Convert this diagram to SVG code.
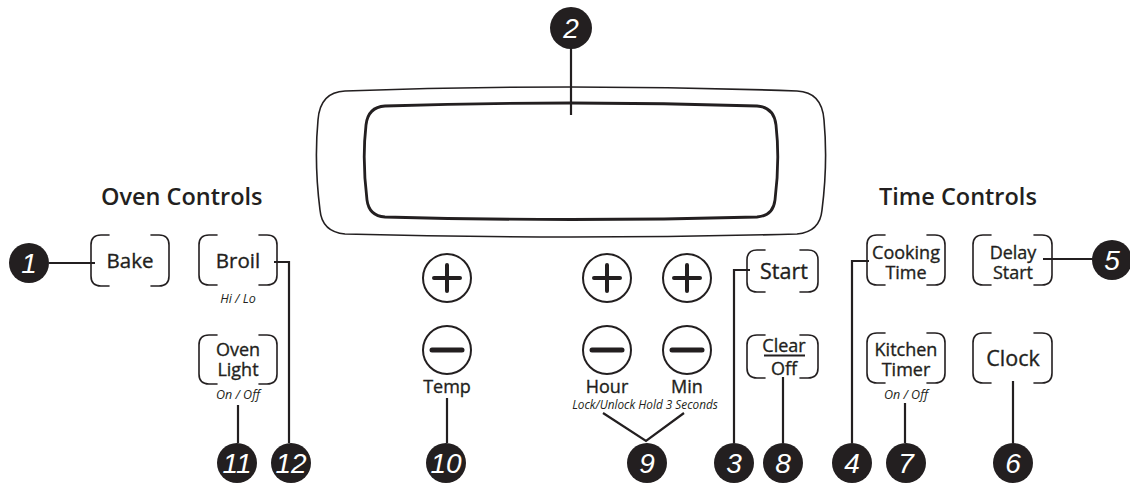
<svg xmlns="http://www.w3.org/2000/svg" width="1130" height="487" viewBox="0 0 1130 487">
<style>
.bg{fill:#fff}
.btn{fill:none;stroke:#231f20;stroke-width:1.6;stroke-linecap:round}
.lbl{font-family:"Open Sans","Noto Sans",sans-serif;font-size:18px;fill:#231f20;stroke:#231f20;stroke-width:0.35;text-anchor:middle}
.big{font-size:20.5px}
.ttl{font-family:"Open Sans","Noto Sans",sans-serif;font-size:23.5px;fill:#231f20;font-weight:600}
.sub{font-family:"Open Sans","Noto Sans",sans-serif;font-size:12.5px;font-style:italic;fill:#231f20;text-anchor:middle}
.lock{font-size:11.8px}
.num{fill:#231f20}
.numt{font-family:"Liberation Sans","DejaVu Sans",sans-serif;font-size:28px;font-style:italic;fill:#fff;text-anchor:middle}
.con{fill:none;stroke:#231f20;stroke-width:2.2}
.key{fill:#fff;stroke:#231f20;stroke-width:2}
.sign{stroke:#231f20;stroke-width:4;stroke-linecap:round}
.disp-o{fill:none;stroke:#231f20;stroke-width:1.6}
.disp-i{fill:none;stroke:#231f20;stroke-width:2.8}
</style>
<rect class="bg" width="1130" height="487"/>

<g id="connectors">
  <path class="con" d="M49 263 H95"/>
  <path class="con" d="M571 48 V115"/>
  <path class="con" d="M274 262 H289 V443"/>
  <path class="con" d="M238 405 V443"/>
  <path class="con" d="M447 398 V443"/>
  <path class="con" d="M603 413 L646 441 L684 413"/>
  <path class="con" d="M750 270 H734 V443"/>
  <path class="con" d="M783 377 V443"/>
  <path class="con" d="M869 261 H852 V443"/>
  <path class="con" d="M905 403 V443"/>
  <path class="con" d="M1013 381 V443"/>
  <path class="con" d="M1043 259 H1095"/>
</g>

<g id="display">
  <path class="disp-o" d="M345 91 Q571 83 797 91 Q822 92 824 120 Q828 163 822 210 Q820 232 797 234 Q571 240 345 234 Q322 232 320 210 Q314 163 318 120 Q320 92 345 91 Z"/>
  <path class="disp-i" d="M385 106 Q571 100 757 106 Q774 107 776 125 Q780 160 775 200 Q773 216 757 217 Q571 222 385 217 Q369 216 367 200 Q362 160 366 125 Q368 107 385 106 Z"/>
</g>

<text class="ttl" x="101" y="205">Oven Controls</text>
<text class="ttl" x="879" y="205">Time Controls</text>

<g id="bake">
  <path class="btn" d="M109 235 H101 Q91 235 91 245 V276 Q91 286 101 286 H109 M151 235 H159 Q169 235 169 245 V276 Q169 286 159 286 H151"/>
  <text class="lbl big" x="130" y="268">Bake</text>
</g>
<g id="broil">
  <path class="btn" d="M217 235 H209 Q199 235 199 245 V275 Q199 285 209 285 H217 M259 235 H267 Q277 235 277 245 V275 Q277 285 267 285 H259"/>
  <text class="lbl big" x="238" y="268">Broil</text>
  <text class="sub" x="238" y="303">Hi / Lo</text>
</g>
<g id="oven-light">
  <path class="btn" d="M217 335 H209 Q199 335 199 345 V374 Q199 384 209 384 H217 M259 335 H267 Q277 335 277 345 V374 Q277 384 267 384 H259"/>
  <text class="lbl" x="238" y="356">Oven</text>
  <text class="lbl" x="238" y="376">Light</text>
  <text class="sub" x="238" y="399">On / Off</text>
</g>

<g id="temp">
  <circle class="key" cx="447" cy="278" r="24"/>
  <path class="sign" d="M434 278 H460 M447 265 V291"/>
  <circle class="key" cx="447" cy="350" r="24"/>
  <path class="sign" d="M432 350 H462" style="stroke-width:5"/>
  <text class="lbl" x="447" y="393">Temp</text>
</g>
<g id="hour">
  <circle class="key" cx="607" cy="278" r="24"/>
  <path class="sign" d="M594 278 H620 M607 265 V291"/>
  <circle class="key" cx="607" cy="350" r="24"/>
  <path class="sign" d="M592 350 H622" style="stroke-width:5"/>
  <text class="lbl" x="607" y="393">Hour</text>
</g>
<g id="min">
  <circle class="key" cx="687" cy="278" r="24"/>
  <path class="sign" d="M674 278 H700 M687 265 V291"/>
  <circle class="key" cx="687" cy="350" r="24"/>
  <path class="sign" d="M672 350 H702" style="stroke-width:5"/>
  <text class="lbl" x="687" y="393">Min</text>
</g>
<text class="sub lock" x="645" y="409">Lock/Unlock Hold 3 Seconds</text>

<g id="start">
  <path class="btn" d="M765 250 H757 Q747 250 747 260 V282 Q747 292 757 292 H765 M800 250 H808 Q818 250 818 260 V282 Q818 292 808 292 H800"/>
  <text class="lbl" x="784" y="279" style="font-size:21.5px">Start</text>
</g>
<g id="clear-off">
  <path class="btn" d="M765 335 H757 Q747 335 747 345 V368 Q747 378 757 378 H765 M800 335 H808 Q818 335 818 345 V368 Q818 378 808 378 H800"/>
  <text class="lbl" x="784" y="352">Clear</text>
  <path d="M764 355.5 H805" stroke="#231f20" stroke-width="1.8"/>
  <text class="lbl" x="784" y="375">Off</text>
</g>
<g id="cooking-time">
  <path class="btn" d="M885 235 H877 Q867 235 867 245 V275 Q867 285 877 285 H885 M927 235 H935 Q945 235 945 245 V275 Q945 285 935 285 H927"/>
  <text class="lbl" x="906" y="259">Cooking</text>
  <text class="lbl" x="906" y="279">Time</text>
</g>
<g id="delay-start">
  <path class="btn" d="M991 235 H983 Q973 235 973 245 V275 Q973 285 983 285 H991 M1034 235 H1042 Q1052 235 1052 245 V275 Q1052 285 1042 285 H1034"/>
  <text class="lbl" x="1013" y="259">Delay</text>
  <text class="lbl" x="1013" y="279">Start</text>
</g>
<g id="kitchen-timer">
  <path class="btn" d="M885 333 H877 Q867 333 867 343 V373 Q867 383 877 383 H885 M927 333 H935 Q945 333 945 343 V373 Q945 383 935 383 H927"/>
  <text class="lbl" x="906" y="356">Kitchen</text>
  <text class="lbl" x="906" y="376">Timer</text>
  <text class="sub" x="906" y="399">On / Off</text>
</g>
<g id="clock">
  <path class="btn" d="M991 333 H983 Q973 333 973 343 V373 Q973 383 983 383 H991 M1034 333 H1042 Q1052 333 1052 343 V373 Q1052 383 1042 383 H1034"/>
  <text class="lbl" x="1013" y="366" style="font-size:21.5px">Clock</text>
</g>

<g id="n1"><circle class="num" cx="29" cy="263" r="20"/><text class="numt" x="29" y="273">1</text></g>
<g id="n2"><circle class="num" cx="571" cy="28" r="21"/><text class="numt" x="571" y="38">2</text></g>
<g id="n3"><circle class="num" cx="734" cy="463" r="20"/><text class="numt" x="734" y="473">3</text></g>
<g id="n4"><circle class="num" cx="852" cy="463" r="20"/><text class="numt" x="852" y="473">4</text></g>
<g id="n5"><circle class="num" cx="1112" cy="260" r="20"/><text class="numt" x="1112" y="270">5</text></g>
<g id="n6"><circle class="num" cx="1013" cy="463" r="20"/><text class="numt" x="1013" y="473">6</text></g>
<g id="n7"><circle class="num" cx="906" cy="463" r="20"/><text class="numt" x="906" y="473">7</text></g>
<g id="n8"><circle class="num" cx="783" cy="463" r="20"/><text class="numt" x="783" y="473">8</text></g>
<g id="n9"><circle class="num" cx="647" cy="463" r="20"/><text class="numt" x="647" y="473">9</text></g>
<g id="n10"><circle class="num" cx="446" cy="463" r="20"/><text class="numt" x="446" y="473">10</text></g>
<g id="n11"><circle class="num" cx="237" cy="463" r="20"/><text class="numt" x="237" y="473">11</text></g>
<g id="n12"><circle class="num" cx="291" cy="463" r="20"/><text class="numt" x="291" y="473">12</text></g>
</svg>
